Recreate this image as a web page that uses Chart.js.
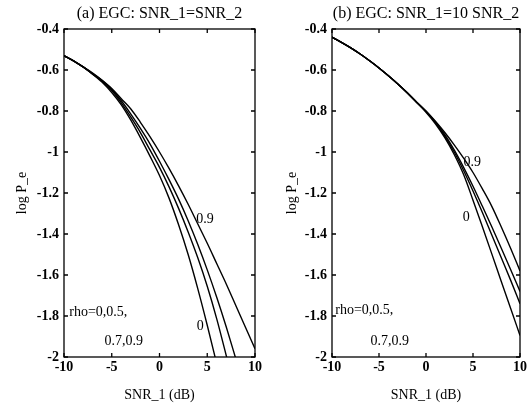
<!DOCTYPE html>
<html lang="en">
<head>
    <meta charset="UTF-8">
    <title>EGC log P_e</title>
    <script src="https://cdn.jsdelivr.net/npm/chart.js"></script>
    <style>
        body { margin: 0; background: #fff; }
        #wrap { position: relative; width: 529px; height: 406px; }
        canvas { position: absolute; top: 0; }
    </style>
</head>
<body>
    <div id="wrap">
        <canvas id="chartA" width="264" height="406" style="left:0"></canvas>
        <canvas id="chartB" width="265" height="406" style="left:264px"></canvas>
    </div>
    <script>
        // SNR_1 in dB
        const snr = [-10, -9, -8, -7, -6, -5, -4, -3, -2, -1, 0, 1, 2, 3, 4, 5, 6, 7, 8, 9, 10];

        // (a) SNR_1 = SNR_2, log P_e for rho = 0, 0.5, 0.7, 0.9
        const aRho0  = [-0.53, -0.555, -0.585, -0.62, -0.66, -0.71, -0.77, -0.845, -0.93, -1.02, -1.115, -1.225, -1.355, -1.5, -1.665, -1.845, -2.035, null, null, null, null];
        const aRho05 = [-0.53, -0.555, -0.585, -0.62, -0.655, -0.70, -0.76, -0.83, -0.905, -0.99, -1.075, -1.17, -1.275, -1.39, -1.515, -1.655, -1.815, -1.995, -2.18, null, null];
        const aRho07 = [-0.53, -0.555, -0.585, -0.618, -0.652, -0.695, -0.75, -0.815, -0.885, -0.96, -1.045, -1.135, -1.23, -1.335, -1.45, -1.575, -1.71, -1.855, -2.01, null, null];
        const aRho09 = [-0.53, -0.555, -0.585, -0.615, -0.65, -0.69, -0.74, -0.79, -0.855, -0.925, -1.0, -1.08, -1.165, -1.255, -1.35, -1.445, -1.545, -1.645, -1.75, -1.855, -1.96];

        // (b) SNR_1 = 10 SNR_2
        const bRho0  = [-0.44, -0.465, -0.492, -0.522, -0.555, -0.59, -0.628, -0.668, -0.711, -0.757, -0.806, -0.862, -0.93, -1.012, -1.11, -1.235, -1.365, -1.497, -1.63, -1.762, -1.895];
        const bRho05 = [-0.44, -0.465, -0.492, -0.522, -0.555, -0.59, -0.628, -0.668, -0.711, -0.757, -0.803, -0.857, -0.922, -1.0, -1.09, -1.19, -1.295, -1.405, -1.515, -1.625, -1.74];
        const bRho07 = [-0.44, -0.465, -0.492, -0.522, -0.555, -0.59, -0.628, -0.668, -0.711, -0.757, -0.801, -0.853, -0.915, -0.99, -1.075, -1.167, -1.265, -1.365, -1.468, -1.573, -1.68];
        const bRho09 = [-0.44, -0.465, -0.492, -0.522, -0.555, -0.59, -0.628, -0.668, -0.711, -0.757, -0.80, -0.85, -0.905, -0.965, -1.03, -1.10, -1.18, -1.265, -1.365, -1.47, -1.58];

        const xTicks = [-10, -5, 0, 5, 10];
        const yTicks = [-2, -1.8, -1.6, -1.4, -1.2, -1, -0.8, -0.6, -0.4];

        const serif = 'Liberation Serif, Times New Roman, serif';

        // frame, inward ticks on all four sides, panel title and text notes
        const frameTicks = {
            id: 'frameTicks',
            afterDraw(chart, args, opts) {
                const ctx = chart.ctx;
                const a = chart.chartArea;
                const x = chart.scales.x, y = chart.scales.y;
                ctx.save();
                ctx.strokeStyle = '#000';
                ctx.lineWidth = 1.3;
                ctx.strokeRect(a.left, a.top, a.right - a.left, a.bottom - a.top);
                ctx.beginPath();
                xTicks.forEach(v => {
                    const px = x.getPixelForValue(v);
                    ctx.moveTo(px, a.bottom); ctx.lineTo(px, a.bottom - 4);
                    ctx.moveTo(px, a.top); ctx.lineTo(px, a.top + 4);
                });
                yTicks.forEach(v => {
                    const py = y.getPixelForValue(v);
                    ctx.moveTo(a.left, py); ctx.lineTo(a.left + 4, py);
                    ctx.moveTo(a.right, py); ctx.lineTo(a.right - 4, py);
                });
                ctx.stroke();

                ctx.fillStyle = '#000';
                ctx.font = '16px ' + serif;
                ctx.textAlign = 'center';
                ctx.textBaseline = 'middle';
                ctx.fillText(opts.title, (a.left + a.right) / 2, 14);

                ctx.font = '14px ' + serif;
                ctx.textAlign = 'left';
                opts.notes.forEach(n => {
                    ctx.fillText(n.text, x.getPixelForValue(n.x), y.getPixelForValue(n.y));
                });
                ctx.restore();
            }
        };

        function makeChart(id, title, series, notes, pad, yWidth, yTitlePad) {
            const datasets = series.map(s => ({
                data: snr.map((v, i) => ({ x: v, y: s[i] })),
                borderColor: '#000',
                borderWidth: 1.4,
                pointRadius: 0,
                cubicInterpolationMode: 'monotone',
                fill: false
            }));
            return new Chart(document.getElementById(id), {
                type: 'line',
                data: { datasets: datasets },
                options: {
                    responsive: false,
                    animation: false,
                    layout: { padding: pad },
                    plugins: {
                        legend: { display: false },
                        tooltip: { enabled: false },
                        frameTicks: { title: title, notes: notes }
                    },
                    scales: {
                        x: {
                            type: 'linear',
                            min: -10, max: 10,
                            afterBuildTicks: s => { s.ticks = xTicks.map(v => ({ value: v })); },
                            afterFit: s => { s.height = 406 - 357 - pad.bottom; },
                            grid: { display: false, drawTicks: false },
                            border: { display: false },
                            ticks: { color: '#000', padding: 2, maxRotation: 0, font: { family: serif, size: 14, weight: 'bold' } },
                            title: { display: true, text: 'SNR_1 (dB)', color: '#000', padding: { top: 0, bottom: 0 }, font: { family: serif, size: 14 } }
                        },
                        y: {
                            min: -2, max: -0.4,
                            afterBuildTicks: s => { s.ticks = yTicks.map(v => ({ value: v })); },
                            afterFit: s => { s.width = yWidth; },
                            grid: { display: false, drawTicks: false },
                            border: { display: false },
                            ticks: {
                                color: '#000', padding: 5,
                                font: { family: serif, size: 14, weight: 'bold' },
                                callback: v => String(Math.round(v * 10) / 10)
                            },
                            title: { display: true, text: 'log P_e', color: '#000', padding: yTitlePad, font: { family: serif, size: 14 } }
                        }
                    }
                },
                plugins: [frameTicks]
            });
        }

        makeChart('chartA', '(a) EGC: SNR_1=SNR_2',
            [aRho0, aRho05, aRho07, aRho09],
            [
                { text: '0.9', x: 3.85, y: -1.33 },
                { text: '0', x: 3.9, y: -1.85 },
                { text: 'rho=0,0.5,', x: -9.45, y: -1.78 },
                { text: '0.7,0.9', x: -5.75, y: -1.925 }
            ],
            { top: 29, left: 8, right: 8, bottom: 2 }, 56, { top: 6, bottom: 0 });

        makeChart('chartB', '(b) EGC: SNR_1=10 SNR_2',
            [bRho0, bRho05, bRho07, bRho09],
            [
                { text: '0.9', x: 4.0, y: -1.05 },
                { text: '0', x: 3.9, y: -1.32 },
                { text: 'rho=0,0.5,', x: -9.65, y: -1.77 },
                { text: '0.7,0.9', x: -5.9, y: -1.925 }
            ],
            { top: 29, left: 8, right: 7, bottom: 2 }, 60, { top: 12, bottom: 0 });
    </script>
</body>
</html>
